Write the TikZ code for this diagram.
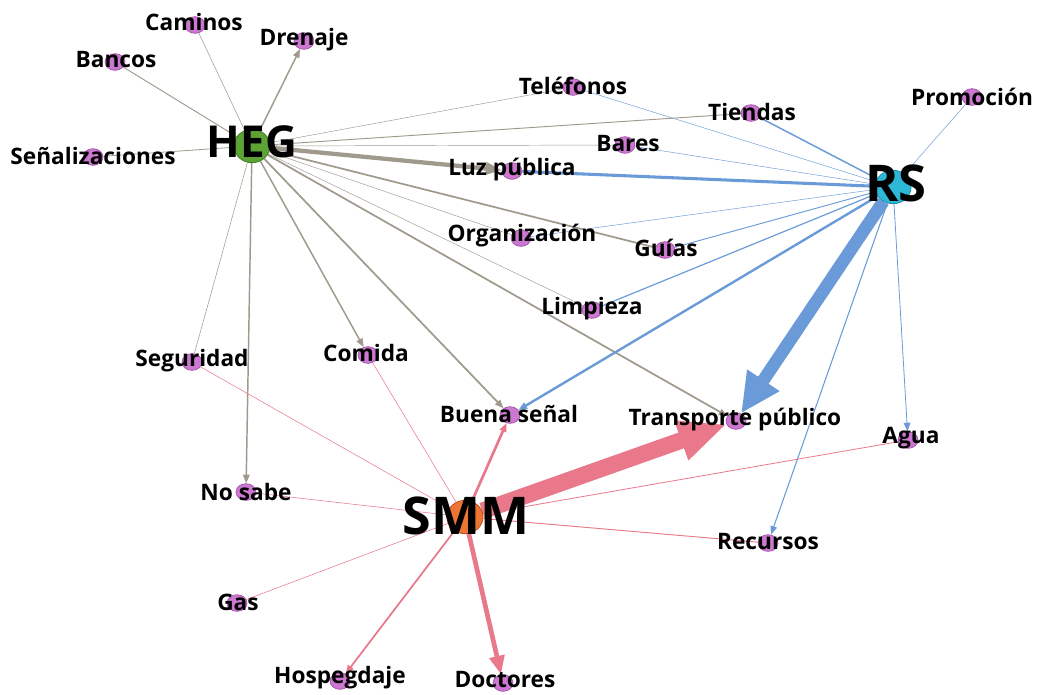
\documentclass[tikz,border=0pt]{standalone}
\usepackage{fontspec}
\setmainfont{Open Sans}
\usetikzlibrary{arrows.meta,shapes.geometric}
\pgfdeclarelayer{edges}
\pgfsetlayers{edges,main}
\definecolor{gE}{HTML}{A09A8C}
\definecolor{bE}{HTML}{6A9BD8}
\definecolor{pE}{HTML}{E8788A}
\definecolor{leafF}{HTML}{CC77D0}
\definecolor{leafD}{HTML}{A050A8}
\definecolor{hegF}{HTML}{5DA234}
\definecolor{hegD}{HTML}{3E7A20}
\definecolor{rsF}{HTML}{2DB8D8}
\definecolor{rsD}{HTML}{1A8AA8}
\definecolor{smmF}{HTML}{EE7434}
\definecolor{smmD}{HTML}{B8501C}
\tikzset{
  leaf/.style={ellipse, fill=leafF, draw=leafD, line width=0.5pt, minimum width=15pt, minimum height=12.5pt, inner sep=0pt},
  lab/.style={font=\bfseries\fontsize{17}{17}\selectfont, inner sep=0pt, text=black},
  hub/.style={ellipse, line width=0.6pt, minimum width=27pt, minimum height=25pt, inner sep=0pt},
  hublab/.style={font=\bfseries\fontsize{#1}{#1}\selectfont, inner sep=0pt, text=black},
  ge/.style={draw=gE},
  be/.style={draw=bE},
  pe/.style={draw=pE},
  sarr/.style={-{Triangle[length=6.5pt,width=5pt]}},
}
\begin{document}
\begin{tikzpicture}[x=0.75pt,y=-0.75pt]
\useasboundingbox (0,0) rectangle (1038,694);
% hubs
\node[hub, fill=hegF, draw=hegD] (heg) at (252,146) {};
\node[hub, fill=rsF, draw=rsD] (rs) at (893,187) {};
\node[hub, fill=smmF, draw=smmD] (smm) at (465,517) {};
% leaves
\node[leaf] (cam) at (195,25) {};
\node[leaf] (dre) at (304,41) {};
\node[leaf] (ban) at (115,62) {};
\node[leaf] (sen) at (93,157) {};
\node[leaf] (tel) at (573,87) {};
\node[leaf] (tie) at (751,113) {};
\node[leaf] (pro) at (972,97) {};
\node[leaf] (bar) at (625,145) {};
\node[leaf] (luz) at (512,171) {};
\node[leaf] (org) at (521,238) {};
\node[leaf] (gui) at (665,250) {};
\node[leaf] (lim) at (592,310) {};
\node[leaf] (seg) at (192,362) {};
\node[leaf] (com) at (368,355) {};
\node[leaf] (bue) at (510,415) {};
\node[leaf] (tra) at (736,421) {};
\node[leaf] (agu) at (908,440) {};
\node[leaf] (nos) at (246,492) {};
\node[leaf] (rec) at (768,543) {};
\node[leaf] (gas) at (237,603) {};
\node[leaf] (hos) at (340,681) {};
\node[leaf] (doc) at (503,683) {};
\begin{pgfonlayer}{edges}
% HEG edges
\draw[ge, line width=0.4pt] (heg) -- (cam);
\draw[ge, line width=1.1pt, sarr] (heg) -- (dre);
\draw[ge, line width=0.7pt] (heg) -- (ban);
\draw[ge, line width=0.6pt] (heg) -- (sen);
\draw[ge, line width=0.35pt] (heg) -- (tel);
\draw[ge, line width=0.7pt] (heg) -- (tie);
\draw[ge, line width=0.35pt] (heg) -- (bar);
\draw[ge, line width=3.2pt, -{Triangle[length=12pt,width=9pt]}] (heg) -- (luz);
\draw[ge, line width=0.35pt] (heg) -- (org);
\draw[ge, line width=1.3pt] (heg) -- (gui);
\draw[ge, line width=0.35pt] (heg) -- (lim);
\draw[ge, line width=1.3pt, sarr] (heg) -- (tra);
\draw[ge, line width=1.3pt, sarr] (heg) -- (bue);
\draw[ge, line width=1.1pt, sarr] (heg) -- (com);
\draw[ge, line width=1.1pt, sarr] (heg) -- (nos);
\draw[ge, line width=0.4pt] (heg) -- (seg);
% RS edges
\draw[be, line width=0.35pt] (rs) -- (pro);
\draw[be, line width=1.1pt] (rs) -- (tie);
\draw[be, line width=0.35pt] (rs) -- (tel);
\draw[be, line width=0.35pt] (rs) -- (bar);
\draw[be, line width=2.3pt] (rs) -- (luz);
\draw[be, line width=0.35pt] (rs) -- (org);
\draw[be, line width=0.7pt] (rs) -- (gui);
\draw[be, line width=0.9pt] (rs) -- (lim);
\draw[be, line width=1.8pt, sarr] (rs) -- (bue);
\draw[be, line width=9.5pt, -{Triangle[length=30pt,width=27pt]}] (rs) -- (tra);
\draw[be, line width=0.8pt, sarr] (rs) -- (rec);
\draw[be, line width=0.6pt, sarr] (rs) -- (agu);
% SMM edges
\draw[pe, line width=12.5pt, -{Triangle[length=36pt,width=29pt]}] (smm) -- (tra);
\draw[pe, line width=2pt, sarr] (smm) -- (bue);
\draw[pe, line width=3.5pt, -{Triangle[length=14pt,width=11pt]}] (smm) -- (doc);
\draw[pe, line width=1.3pt, sarr] (smm) -- (hos);
\draw[pe, line width=0.4pt] (smm) -- (gas);
\draw[pe, line width=0.4pt] (smm) -- (nos);
\draw[pe, line width=0.4pt] (smm) -- (seg);
\draw[pe, line width=0.4pt] (smm) -- (com);
\draw[pe, line width=0.6pt] (smm) -- (agu);
\draw[pe, line width=0.7pt] (smm) -- (rec);
\end{pgfonlayer}
% labels
\node[lab] (lcam) at (194,22) {Caminos};
\node[lab] (ldre) at (304,40) {Drenaje};
\node[lab] (lban) at (116,60) {Bancos};
\node[lab] (lsen) at (93,156) {Señalizaciones};
\node[lab] (ltel) at (573,86) {Teléfonos};
\node[lab] (ltie) at (752,112) {Tiendas};
\node[lab] (lpro) at (972,97) {Promoción};
\node[lab] (lbar) at (628,144) {Bares};
\node[lab] (lluz) at (512,170) {Luz pública};
\node[lab] (lorg) at (522,236) {Organización};
\node[lab] (lgui) at (666,248) {Guías};
\node[lab] (llim) at (592,309) {Limpieza};
\node[lab] (lseg) at (192,361) {Seguridad};
\node[lab] (lcom) at (366,353) {Comida};
\node[lab] (lbue) at (509,414) {Buena señal};
\node[lab] (ltra) at (735,420) {Transporte público};
\node[lab] (lagu) at (911,438) {Agua};
\node[lab] (lnos) at (246,492) {No sabe};
\node[lab] (lrec) at (768,542) {Recursos};
\node[lab] (lgas) at (238,602) {Gas};
\node[lab] (lhos) at (340,678) {Hospegdaje};
\node[lab] (ldoc) at (505,680) {Doctores};
\node[hublab=33] (lheg) at (252,142) {HEG};
\node[hublab=38] (lrs) at (896,183) {RS};
\node[hublab=39] (lsmm) at (466,516) {SMM};
\end{tikzpicture}
\end{document}
